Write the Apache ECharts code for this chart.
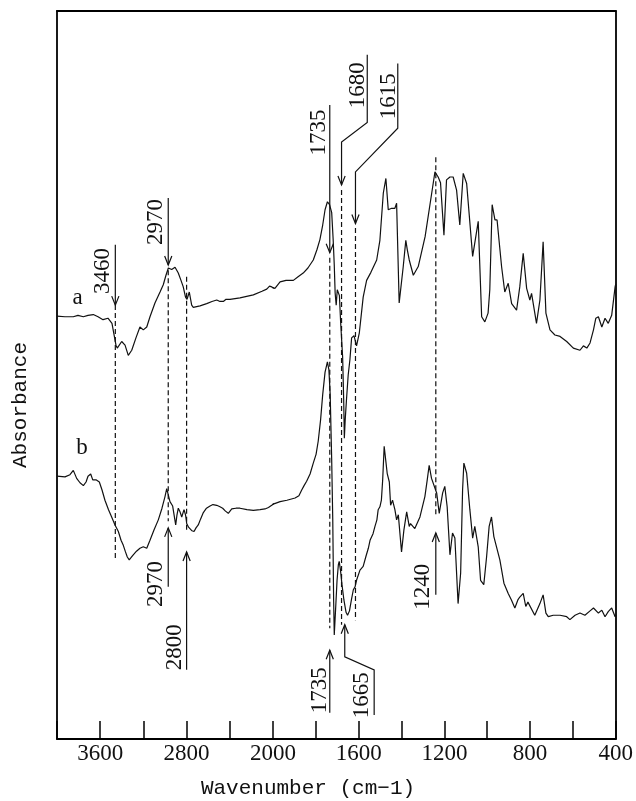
<!DOCTYPE html>
<html>
<head>
<meta charset="utf-8">
<script src="https://cdn.jsdelivr.net/npm/echarts@6.0.0/dist/echarts.min.js"></script>
<style>
  html, body { margin: 0; padding: 0; background: #fff; }
  #chart { width: 636px; height: 801px; }
</style>
</head>
<body>
<div id="chart"></div>
<script>
// IR spectra, [wavenumber (cm-1), absorbance (arbitrary units)]
const spectrumA = [
  [4000,58.1],[3926,58.0],[3849,58.0],[3806,58.2],[3756,58.0],[3713,58.2],[3664,58.3],[3620,58.0],
  [3574,57.6],[3528,57.8],[3491,57.1],[3454,54.1],[3442,53.7],[3401,54.6],[3370,54.1],[3340,52.7],
  [3308,53.4],[3269,55.1],[3232,56.6],[3201,56.2],[3169,56.6],[3139,58.0],[3093,59.9],[3046,61.4],
  [3016,62.4],[2991,63.7],[2969,64.7],[2938,64.5],[2907,64.8],[2877,64.0],[2852,63.0],[2831,62.1],
  [2810,60.7],[2796,60.4],[2775,61.4],[2753,59.6],[2738,59.3],[2676,59.5],[2614,59.8],[2565,60.1],
  [2521,60.3],[2491,60.1],[2460,60.1],[2435,60.4],[2398,60.4],[2306,60.6],[2182,61.0],[2102,61.5],
  [2058,61.8],[2032,62.2],[2012,62.1],[1991,61.9],[1967,62.8],[1939,63.0],[1905,63.0],[1883,63.5],
  [1859,64.0],[1837,64.7],[1812,65.8],[1795,67.2],[1781,68.6],[1768,70.6],[1757,72.7],[1746,73.8],
  [1736,73.4],[1726,72.3],[1719,68.5],[1714,65.1],[1710,61.3],[1705,59.6],[1700,61.7],[1694,61.9],
  [1690,60.9],[1684,57.1],[1675,52.5],[1670,46.6],[1667,41.3],[1663,43.8],[1657,46.6],[1649,50.0],
  [1641,52.1],[1633,55.1],[1622,55.4],[1610,54.0],[1597,55.8],[1579,60.7],[1563,63.0],[1543,64.1],
  [1516,65.8],[1501,68.5],[1485,75.0],[1473,77.0],[1462,72.7],[1446,72.9],[1431,72.9],[1423,73.6],
  [1411,59.9],[1392,64.9],[1380,68.5],[1373,67.2],[1364,65.8],[1345,63.7],[1322,64.9],[1290,69.0],
  [1259,75.0],[1244,77.9],[1229,77.2],[1218,76.4],[1202,69.2],[1190,76.8],[1174,77.2],[1159,77.2],
  [1143,75.4],[1128,70.6],[1112,77.7],[1096,76.3],[1068,66.3],[1042,71.1],[1026,58.0],[1011,57.3],
  [996,58.5],[988,61.7],[977,73.4],[964,71.3],[954,71.3],[933,64.9],[918,61.4],[902,62.6],
  [886,59.8],[863,58.9],[848,62.1],[832,66.7],[816,61.9],[801,60.3],[793,61.2],[770,57.1],
  [754,60.3],[739,68.3],[726,58.5],[707,56.2],[684,55.5],[660,55.3],[629,54.6],[598,53.7],
  [567,53.4],[551,54.0],[535,53.7],[520,54.4],[504,56.2],[493,57.8],[481,58.0],[465,56.6],
  [450,57.8],[435,57.1],[419,58.2],[403,62.1],[400,62.5]
];

const spectrumB = [
  [4000,36.1],[3926,36.0],[3880,36.3],[3849,36.9],[3818,35.8],[3787,35.2],[3756,34.8],[3731,35.3],
  [3713,36.1],[3688,36.4],[3669,35.6],[3639,35.6],[3608,35.3],[3583,34.2],[3556,32.8],[3523,31.5],
  [3494,30.5],[3463,29.4],[3432,28.5],[3407,27.3],[3386,26.6],[3366,25.7],[3349,25.0],[3331,24.6],
  [3315,24.9],[3294,25.3],[3264,25.8],[3232,26.2],[3201,26.4],[3169,26.2],[3139,27.3],[3102,28.7],
  [3062,30.1],[3028,31.7],[3000,33.3],[2984,34.4],[2969,33.5],[2954,32.6],[2929,32.0],[2914,32.1],
  [2901,29.4],[2889,30.8],[2877,31.7],[2861,31.2],[2845,30.5],[2824,31.5],[2810,30.8],[2799,29.6],
  [2782,29.1],[2769,28.9],[2750,28.6],[2731,28.5],[2713,29.0],[2692,29.4],[2671,30.2],[2645,31.1],
  [2616,31.7],[2583,32.0],[2556,32.2],[2521,32.1],[2491,31.9],[2466,31.7],[2440,31.3],[2414,31.0],
  [2382,31.6],[2343,31.7],[2306,31.7],[2241,31.5],[2182,31.4],[2120,31.5],[2074,31.6],[2042,31.8],
  [2012,32.1],[1986,32.4],[1967,32.6],[1935,32.8],[1897,33.1],[1879,33.4],[1866,34.2],[1855,34.8],
  [1843,35.4],[1827,36.4],[1812,37.9],[1799,39.1],[1789,40.9],[1778,43.8],[1768,47.3],[1757,50.4],
  [1746,51.8],[1739,50.7],[1733,47.3],[1726,38.3],[1721,30.1],[1717,19.1],[1714,14.3],[1708,17.7],
  [1701,21.8],[1695,23.9],[1691,24.4],[1685,23.2],[1678,21.2],[1669,19.1],[1659,17.4],[1652,17.0],
  [1643,17.6],[1634,19.1],[1625,20.5],[1617,20.9],[1610,21.8],[1594,23.2],[1579,23.7],[1566,25.1],
  [1555,26.2],[1547,27.3],[1540,27.1],[1533,28.2],[1524,29.2],[1515,30.1],[1509,31.5],[1501,31.9],
  [1494,32.8],[1488,35.6],[1481,40.2],[1475,40.0],[1467,36.5],[1457,35.3],[1451,32.1],[1442,32.8],
  [1431,31.5],[1423,30.1],[1415,30.8],[1400,25.7],[1389,28.7],[1376,31.2],[1364,29.2],[1358,29.6],
  [1338,28.9],[1314,30.5],[1291,33.3],[1280,35.6],[1271,37.6],[1260,35.8],[1252,36.0],[1236,33.8],
  [1224,31.0],[1208,33.8],[1198,34.7],[1187,31.9],[1174,25.3],[1162,28.3],[1151,27.6],[1136,18.6],
  [1124,22.8],[1115,34.2],[1109,37.9],[1096,36.5],[1081,31.5],[1068,27.6],[1058,29.2],[1042,26.4],
  [1031,21.8],[1016,21.2],[1003,25.0],[991,29.2],[980,30.5],[969,27.8],[960,28.0],[941,24.6],
  [922,21.4],[902,20.0],[887,19.1],[871,18.0],[857,19.1],[848,19.5],[832,20.0],[820,18.2],
  [810,18.8],[801,18.9],[778,17.0],[754,18.6],[739,19.8],[726,17.3],[715,16.8],[692,17.0],
  [660,17.0],[629,16.8],[614,16.4],[590,17.0],[567,17.3],[544,17.0],[520,17.6],[504,18.0],
  [481,17.3],[465,17.7],[450,16.8],[435,17.5],[419,18.0],[403,16.8],[400,17.0]
];

// wavenumber tick labels
const tickLabels = [3600, 2800, 2000, 1600, 1200, 800, 400];

// marked bands
const calloutsA = [3460, 2970, 1735, 1680, 1615];   // arrows onto trace a
const calloutsB = [2970, 2800, 1735, 1665, 1240];   // arrows onto trace b
const guides = [3460, 2970, 2800, 1735, 1680, 1615, 1240]; // dashed drop lines
const traceNames = ['a', 'b'];

// the axis is drawn at half scale above 2000 cm-1
const BREAK = 2000;

// ---- layout of the annotations (offsets in px, heights in absorbance units) ----
const calloutLayoutA = {
  3460: { path: [[0, 67.9], [0, 59.6]], labelDx: -12.5, labelY: 64.3 },
  2970: { path: [[0, 74.3], [0, 65.1]], labelDx: -12, labelY: 71.0 },
  1735: { path: [[0, 87.1], [0, 66.8]], labelDx: -10.5, labelY: 83.3 },
  1680: { path: [[25.7, 94.0], [25.7, 84.7], [0, 82.0], [0, 76.1]], labelDx: 16.2, labelY: 89.8 },
  1615: { path: [[42.3, 92.8], [42.3, 83.9], [0, 77.9], [0, 70.8]], labelDx: 33, labelY: 88.3 }
};
const calloutLayoutB = {
  2970: { path: [[0, 20.9], [0, 29.0]], labelDx: -12.7, labelY: 21.3 },
  2800: { path: [[0, 9.5], [0, 25.7]], labelDx: -11.5, labelY: 12.6 },
  1735: { path: [[0, 3.6], [0, 12.2]], labelDx: -10, labelY: 6.7 },
  1665: { path: [[29.4, 3.3], [29.4, 9.5], [0, 11.3], [0, 15.7]], labelDx: 17.2, labelY: 6.0 },
  1240: { path: [[0, 19.8], [0, 28.3]], labelDx: -12.5, labelY: 20.9 }
};
const guideLayout = {
  3460: [59.6, 24.6], 2970: [64.4, 29.9], 2800: [63.5, 28.4], 1735: [66.1, 15.2],
  1680: [75.4, 15.7], 1615: [70.2, 16.3], 1240: [79.9, 30.8]
};
const traceTagLayout = { a: [3810, 60.6], b: [3769, 40.0] };

const INK = '#111';
const NUM_FONT = 'Liberation Serif';
const NUM_SIZE = 23;

// points of one axis segment, plus the neighbour across the break so the trace joins up (clipped by the grid)
function segment(data, high) {
  const inside = w => (high ? w >= BREAK : w <= BREAK);
  return data.filter((p, i) =>
    inside(p[0]) ||
    (i > 0 && inside(data[i - 1][0])) ||
    (i < data.length - 1 && inside(data[i + 1][0])));
}

// annotation items for one segment
function annotationItems(high) {
  const onSide = w => (high ? w > BREAK : w < BREAK);
  const items = [];
  guides.filter(onSide).forEach(w => items.push({ kind: 'guide', wn: w, span: guideLayout[w] }));
  calloutsA.filter(onSide).forEach(w => items.push({ kind: 'callout', wn: w, label: String(w), lay: calloutLayoutA[w] }));
  calloutsB.filter(onSide).forEach(w => items.push({ kind: 'callout', wn: w, label: String(w), lay: calloutLayoutB[w] }));
  if (high) traceNames.forEach(n => items.push({ kind: 'tag', wn: traceTagLayout[n][0], v: traceTagLayout[n][1], label: n }));
  return items;
}

function numText(x, y, text, rotate) {
  return {
    type: 'text', x: x, y: y, rotation: rotate ? Math.PI / 2 : 0,
    style: { text: text, fill: INK, fontFamily: NUM_FONT, fontSize: NUM_SIZE, align: 'center', verticalAlign: 'middle' }
  };
}

function renderAnnotation(items) {
  return function (params, api) {
    const it = items[params.dataIndex];
    const baseX = api.coord([it.wn, 0])[0];
    const yOf = v => api.coord([it.wn, v])[1];
    const children = [];
    if (it.kind === 'guide') {
      children.push({
        type: 'line',
        shape: { x1: baseX, y1: yOf(it.span[0]), x2: baseX, y2: yOf(it.span[1]) },
        style: { stroke: INK, lineWidth: 1.2, lineDash: [5, 3] }
      });
    } else if (it.kind === 'callout') {
      const pts = it.lay.path.map(p => [baseX + p[0], yOf(p[1])]);
      children.push({ type: 'polyline', shape: { points: pts }, style: { stroke: INK, lineWidth: 1.2, fill: null } });
      const tip = pts[pts.length - 1], prev = pts[pts.length - 2];
      const dx = tip[0] - prev[0], dy = tip[1] - prev[1];
      const len = Math.hypot(dx, dy) || 1;
      const ux = dx / len, uy = dy / len, nx = -uy, ny = ux;
      const L = 9, W = 3.6;
      children.push({
        type: 'polyline',
        shape: { points: [
          [tip[0] - ux * L + nx * W, tip[1] - uy * L + ny * W],
          tip,
          [tip[0] - ux * L - nx * W, tip[1] - uy * L - ny * W]
        ] },
        style: { stroke: INK, lineWidth: 1.2, fill: null }
      });
      children.push(numText(baseX + it.lay.labelDx, yOf(it.lay.labelY), it.label, true));
    } else {
      children.push(numText(baseX, yOf(it.v), it.label, false));
    }
    return { type: 'group', children: children };
  };
}

const itemsHigh = annotationItems(true);
const itemsLow = annotationItems(false);

const lineSeries = (data, gi) => ({
  type: 'line', xAxisIndex: gi, yAxisIndex: gi, data: data,
  showSymbol: false, symbol: 'none', clip: true, silent: true,
  lineStyle: { color: INK, width: 1.2 }
});

const frameLine = { show: true, onZero: false, lineStyle: { color: '#000', width: 1.8 } };
const bottomAxis = (gi, min, max, interval, fmt) => ({
  type: 'value', gridIndex: gi, min: min, max: max, interval: interval, inverse: true,
  position: 'bottom', axisLine: frameLine,
  axisTick: { show: true, inside: true, length: 18, lineStyle: { color: '#000', width: 1.5 } },
  axisLabel: {
    show: true, formatter: fmt, margin: 3, color: INK, fontFamily: NUM_FONT, fontSize: NUM_SIZE,
    showMinLabel: true, showMaxLabel: true, hideOverlap: false
  },
  splitLine: { show: false }
});
const topAxis = (gi, min, max) => ({
  type: 'value', gridIndex: gi, min: min, max: max, inverse: true, position: 'top',
  axisLine: frameLine, axisTick: { show: false }, axisLabel: { show: false }, splitLine: { show: false }
});
const sideAxis = (gi, pos) => ({
  type: 'value', gridIndex: gi, min: 0, max: 100, position: pos,
  axisLine: frameLine, axisTick: { show: false }, axisLabel: { show: false }, splitLine: { show: false }
});

const chart = echarts.init(document.getElementById('chart'), null, { renderer: 'canvas' });
chart.setOption({
  animation: false,
  backgroundColor: '#fff',
  grid: [
    { left: 57, top: 11, width: 216, height: 728 },
    { left: 273, top: 11, width: 343, height: 728 }
  ],
  xAxis: [
    bottomAxis(0, BREAK, 4000, 400, v => (tickLabels.indexOf(v) >= 0 && v >= BREAK) ? String(v) : ''),
    bottomAxis(1, 400, BREAK, 200, v => (tickLabels.indexOf(v) >= 0 && v < BREAK) ? String(v) : ''),
    topAxis(0, BREAK, 4000),
    topAxis(1, 400, BREAK)
  ],
  yAxis: [sideAxis(0, 'left'), sideAxis(1, 'right')],
  series: [
    lineSeries(segment(spectrumA, true), 0),
    lineSeries(segment(spectrumB, true), 0),
    lineSeries(segment(spectrumA, false), 1),
    lineSeries(segment(spectrumB, false), 1),
    {
      type: 'custom', xAxisIndex: 0, yAxisIndex: 0, silent: true, clip: false,
      data: itemsHigh.map(it => [it.wn, 0]), renderItem: renderAnnotation(itemsHigh)
    },
    {
      type: 'custom', xAxisIndex: 1, yAxisIndex: 1, silent: true, clip: false,
      data: itemsLow.map(it => [it.wn, 0]), renderItem: renderAnnotation(itemsLow)
    }
  ],
  graphic: [
    {
      type: 'text', x: 308, y: 788,
      style: { text: 'Wavenumber (cm\u22121)', fill: INK, fontFamily: 'Liberation Mono', fontSize: 21, align: 'center', verticalAlign: 'middle' }
    },
    {
      type: 'text', x: 20, y: 405, rotation: Math.PI / 2,
      style: { text: 'Absorbance', fill: INK, fontFamily: 'Liberation Mono', fontSize: 21, align: 'center', verticalAlign: 'middle' }
    }
  ]
});
</script>
</body>
</html>
